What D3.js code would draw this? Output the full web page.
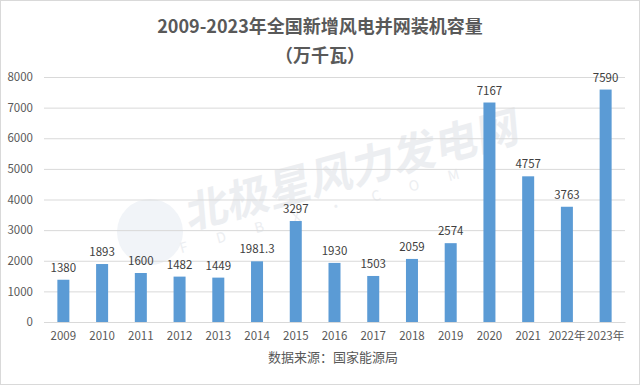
<!DOCTYPE html>
<html>
<head>
<meta charset="utf-8">
<script src="https://cdn.jsdelivr.net/npm/d3@7"></script>
<style>
  html, body { margin: 0; padding: 0; background: #fff; }
  svg text { font-family: "Noto Sans CJK SC", "Noto Sans", sans-serif; }
</style>
</head>
<body>
<svg id="chart"></svg>
<script>
// data
const years = ['2009','2010','2011','2012','2013','2014','2015','2016','2017','2018','2019','2020','2021','2022年','2023年'];
const capacity = [1380, 1893, 1600, 1482, 1449, 1981.3, 3297, 1930, 1503, 2059, 2574, 7167, 4757, 3763, 7590];
const yTicks = [0, 1000, 2000, 3000, 4000, 5000, 6000, 7000, 8000];

const width = 640, height = 385;
const margin = { top: 77, right: 15, bottom: 63, left: 44 };
const innerW = width - margin.left - margin.right;
const innerH = height - margin.top - margin.bottom;

const svg = d3.select('#chart')
    .attr('width', width)
    .attr('height', height);

// outer border
svg.append('rect')
    .attr('x', 0.5).attr('y', 0.5)
    .attr('width', width - 1).attr('height', height - 1)
    .attr('fill', '#fff')
    .attr('stroke', '#d9d9d9');

// title
svg.append('text')
    .attr('x', 320).attr('y', 33)
    .attr('text-anchor', 'middle')
    .attr('font-size', 18).attr('font-weight', 'bold')
    .attr('fill', '#595959')
    .text('2009-2023年全国新增风电并网装机容量');
svg.append('text')
    .attr('x', 320).attr('y', 62)
    .attr('text-anchor', 'middle')
    .attr('font-size', 18).attr('font-weight', 'bold')
    .attr('fill', '#595959')
    .text('（万千瓦）');

// watermark
svg.append('circle')
    .attr('cx', 150).attr('cy', 232).attr('r', 33)
    .attr('fill', '#f1f4f8');
const wm = svg.append('g')
    .attr('transform', 'translate(353,170) rotate(-15)')
    .attr('fill', '#eceef1');
wm.append('text')
    .attr('x', 0).attr('y', 0)
    .attr('dy', '0.35em')
    .attr('text-anchor', 'middle')
    .attr('font-size', 43).attr('font-weight', 'bold')
    .attr('transform', 'skewX(-10)')
    .text('北极星风力发电网');
wm.append('text')
    .attr('x', -28).attr('y', 31)
    .attr('dy', '0.35em')
    .attr('text-anchor', 'middle')
    .attr('font-size', 14)
    .attr('letter-spacing', 30)
    .text('FDBX·COM');

const g = svg.append('g')
    .attr('transform', `translate(${margin.left},${margin.top})`);

const xScale = d3.scaleBand()
    .domain(years)
    .range([0, innerW])
    .paddingInner(0.69)
    .paddingOuter(0.345);

const yScale = d3.scaleLinear()
    .domain([0, 8000])
    .range([innerH, 0]);

//grid lines
g.append('g')
    .attr('class', 'grid')
    .call(d3.axisLeft(yScale).tickValues(yTicks).tickSize(-innerW).tickFormat(''))
    .call(s => s.select('.domain').remove())
    .call(s => s.selectAll('line').attr('stroke', '#d9d9d9'));

//y-axis
g.append('g')
    .attr('class', 'y-axis')
    .call(d3.axisLeft(yScale).tickValues(yTicks).tickFormat(d3.format('d')).tickSize(0).tickPadding(11))
    .call(s => s.select('.domain').remove())
    .call(s => s.selectAll('text')
        .attr('font-size', 11.5)
        .attr('fill', '#595959'));

//x-axis
g.append('g')
    .attr('class', 'x-axis')
    .attr('transform', `translate(0,${innerH})`)
    .call(d3.axisBottom(xScale).tickSize(0).tickPadding(10))
    .call(s => s.select('.domain').attr('stroke', '#d9d9d9'))
    .call(s => s.selectAll('text')
        .attr('font-size', 11.5)
        .attr('fill', '#595959'));

//bars
g.selectAll('.bar')
    .data(capacity)
    .enter().append('rect')
    .attr('class', 'bar')
    .attr('x', (d, i) => xScale(years[i]))
    .attr('y', d => yScale(d))
    .attr('width', xScale.bandwidth())
    .attr('height', d => innerH - yScale(d))
    .attr('fill', '#5b9bd5');

//data labels
g.selectAll('.label')
    .data(capacity)
    .enter().append('text')
    .attr('class', 'label')
    .attr('x', (d, i) => xScale(years[i]) + xScale.bandwidth() / 2)
    .attr('y', d => yScale(d) - 8)
    .attr('text-anchor', 'middle')
    .attr('font-size', 11.5)
    .attr('fill', '#404040')
    .text(d => d);

// source
svg.append('text')
    .attr('x', 333).attr('y', 362)
    .attr('text-anchor', 'middle')
    .attr('font-size', 13)
    .attr('fill', '#595959')
    .text('数据来源：国家能源局');
</script>
</body>
</html>
